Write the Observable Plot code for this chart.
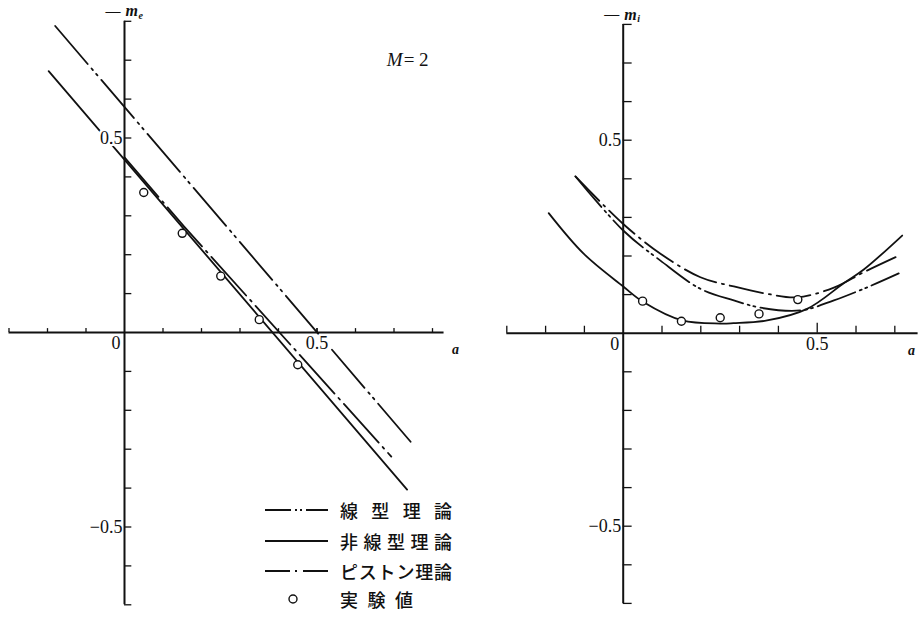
<!DOCTYPE html>
<html>
<head>
<meta charset="utf-8">
<script src="https://cdn.jsdelivr.net/npm/d3@7"></script>
<script src="https://cdn.jsdelivr.net/npm/@observablehq/plot@0.6"></script>
<style>
  html, body { margin: 0; padding: 0; background: #fff; }
  #fig { position: relative; width: 919px; height: 618px; overflow: hidden; background: #fff; }
  #fig > svg { position: absolute; top: 0; overflow: visible; }
  .legend-row { position: absolute; display: flex; align-items: center; height: 24px; }
  .legend-text { display: flex; justify-content: space-between; font-family: "Noto Sans CJK JP", sans-serif; font-size: 18px; font-weight: 500; color: #111; line-height: 24px; }
</style>
</head>
<body>
<div id="fig"></div>
<script>
// ---- data: moment coefficients versus pivot position a, M = 2 ----

// experimental values (same pivot positions in both panels)
const expA = [0.05, 0.15, 0.25, 0.35, 0.45];
const expMe = [0.36, 0.255, 0.145, 0.033, -0.083];
const expMi = [0.083, 0.031, 0.040, 0.050, 0.087];

// left panel, -m_e
const linearLeftA = [-0.180, 0.745];
const linearLeftM = [0.788, -0.283];
const nonlinearLeftA = [-0.197, 0.734];
const nonlinearLeftM = [0.672, -0.404];
const pistonLeftA = [0.0, 0.155, 0.693];
const pistonLeftM = [0.450, 0.272, -0.319];

// right panel, -m_i
const pistonRightA = [-0.123, 0, 0.096, 0.199, 0.285, 0.371, 0.448, 0.543, 0.620, 0.702];
const pistonRightM = [0.406, 0.283, 0.206, 0.145, 0.121, 0.102, 0.093, 0.118, 0.158, 0.197];
const linearRightA = [-0.123, 0, 0.096, 0.199, 0.285, 0.354, 0.457, 0.543, 0.629, 0.710];
const linearRightM = [0.406, 0.266, 0.188, 0.115, 0.085, 0.066, 0.059, 0.085, 0.119, 0.155];
const nonlinearRightA = [-0.192, -0.102, 0, 0.053, 0.152, 0.25, 0.284, 0.371, 0.474, 0.569, 0.620, 0.719];
const nonlinearRightM = [0.311, 0.206, 0.121, 0.080, 0.033, 0.025, 0.026, 0.033, 0.063, 0.130, 0.165, 0.253];

// axes
const yTicks = [-0.7, -0.6, -0.5, -0.4, -0.3, -0.2, -0.1, 0.1, 0.2, 0.3, 0.4, 0.5, 0.6, 0.7, 0.8];
const xTicksLeft = [-0.3, -0.2, -0.1, 0.1, 0.2, 0.3, 0.4, 0.5, 0.6, 0.7, 0.8];
const xTicksRight = [-0.3, -0.2, -0.1, 0.1, 0.2, 0.3, 0.4, 0.6, 0.7];
const xMajor = [0.5];
const xTickValues = [0.5];
const xTickLabels = ["0.5"];
const yTickValues = [0.5, -0.5];
const yTickLabels = ["0.5", "\u22120.5"];
const originLabel = ["0"];
const axisVar = ["a"];
const legendLabels = ["線型理論", "非線型理論", "ピストン理論", "実験値"];
const machLabel = ["M", "= 2"];

// ---- helpers ----
const rows = (a, m) => a.map((v, i) => ({a: v, m: m[i]}));
const ink = "#111";
const serif = "'Liberation Serif', 'DejaVu Serif', serif";
const dashLinear = "50,6,2,5,2,6";
const dashPiston = "52,6,2,6";
const halo = {fill: ink, stroke: "white", strokeWidth: 5, paintOrder: "stroke", fontSize: 18};

function axisMarks({xEnd, xTicks, xTickLen, xMajorLen, yTickLen, sub, varAnchor, varDx}) {
  return [
    Plot.text(xTickValues, {x: d => d, y: 0, text: (d, i) => xTickLabels[i], textAnchor: "middle", lineAnchor: "top", dy: 4, ...halo}),
    Plot.text(yTickValues, {x: 0, y: d => d, text: (d, i) => yTickLabels[i], textAnchor: "end", dx: -2, ...halo}),
    Plot.text(originLabel, {x: 0, y: 0, text: d => d, textAnchor: "end", lineAnchor: "top", dx: -4, dy: 4, ...halo}),
    Plot.ruleY([0], {x1: xEnd[0], x2: xEnd[1], stroke: ink, strokeWidth: 2}),
    Plot.ruleX([0], {y1: -0.7, y2: 0.8, stroke: ink, strokeWidth: 2}),
    Plot.ruleX(xTicks, {x: d => d, y1: 0, y2: xTickLen, stroke: ink, strokeWidth: 1.3}),
    Plot.ruleX(xMajor, {x: d => d, y1: 0, y2: xMajorLen, stroke: ink, strokeWidth: 1.3}),
    Plot.ruleY(yTicks, {y: d => d, x1: 0, x2: yTickLen, stroke: ink, strokeWidth: 1.3}),
    Plot.text(["\u2014"], {x: 0, y: 0.8, text: d => d, textAnchor: "end", dx: -4, dy: -10, fontSize: 15, fontWeight: "bold", fill: ink}),
    Plot.text(["m"], {x: 0, y: 0.8, text: d => d, textAnchor: "start", dx: 1, dy: -10, fontSize: 16, fontStyle: "italic", fontWeight: "bold", fill: ink}),
    Plot.text([sub], {x: 0, y: 0.8, text: d => d, textAnchor: "start", dx: 14, dy: -6, fontSize: 10, fontStyle: "italic", fontWeight: "bold", fill: ink}),
    Plot.text(axisVar, {x: xEnd[1], y: 0, text: d => d, textAnchor: varAnchor, dx: varDx, dy: 17, fontSize: 14, fontStyle: "italic", fontWeight: "bold", fill: ink})
  ];
}

const fig = document.getElementById("fig");

// left panel
const left = Plot.plot({
  width: 460, height: 618,
  marginLeft: 8.5, marginRight: 8.75, marginTop: 20.8, marginBottom: 13.7,
  x: {domain: [-0.3, 0.85], axis: null},
  y: {domain: [-0.7, 0.8], axis: null},
  style: {fontFamily: serif, background: "none", overflow: "visible"},
  marks: [
    Plot.line(rows(linearLeftA, linearLeftM), {x: "a", y: "m", stroke: ink, strokeWidth: 1.8, strokeDasharray: dashLinear}),
    Plot.line(rows(nonlinearLeftA, nonlinearLeftM), {x: "a", y: "m", stroke: ink, strokeWidth: 1.8}),
    Plot.line(rows(pistonLeftA, pistonLeftM), {x: "a", y: "m", stroke: ink, strokeWidth: 1.8, strokeDasharray: dashPiston}),
    ...axisMarks({xEnd: [-0.3, 0.83], xTicks: xTicksLeft, xTickLen: 0.01, xMajorLen: 0.01, yTickLen: 0.019, sub: "e", varAnchor: "start", varDx: 8}),
    Plot.dot(rows(expA, expMe), {x: "a", y: "m", r: 4, stroke: ink, strokeWidth: 1.4, fill: "white"}),
    Plot.text([machLabel[0]], {x: 0.725, y: 0.70, text: d => d, textAnchor: "end", dx: -1, fontSize: 19, fontStyle: "italic", fill: ink}),
    Plot.text([machLabel[1]], {x: 0.725, y: 0.70, text: d => d, textAnchor: "start", fontSize: 19, fill: ink})
  ]
});
left.style.left = "0px";
fig.appendChild(left);

// right panel
const right = Plot.plot({
  width: 459, height: 618,
  marginLeft: 46.3, marginRight: 1.4, marginTop: 23.9, marginBottom: 15.1,
  x: {domain: [-0.3, 0.76], axis: null},
  y: {domain: [-0.7, 0.8], axis: null},
  style: {fontFamily: serif, background: "none", overflow: "visible"},
  marks: [
    Plot.line(rows(pistonRightA, pistonRightM), {x: "a", y: "m", curve: "catmull-rom", stroke: ink, strokeWidth: 1.8, strokeDasharray: "34,6,2,6"}),
    Plot.line(rows(linearRightA, linearRightM), {x: "a", y: "m", curve: "catmull-rom", stroke: ink, strokeWidth: 1.8, strokeDasharray: "40,5,2,4,2,5"}),
    Plot.line(rows(nonlinearRightA, nonlinearRightM), {x: "a", y: "m", curve: "catmull-rom", stroke: ink, strokeWidth: 1.8}),
    ...axisMarks({xEnd: [-0.3, 0.76], xTicks: xTicksRight, xTickLen: 0.018, xMajorLen: 0.026, yTickLen: 0.023, sub: "i", varAnchor: "end", varDx: -3}),
    Plot.dot(rows(expA, expMi), {x: "a", y: "m", r: 4, stroke: ink, strokeWidth: 1.4, fill: "white"})
  ]
});
right.style.left = "460px";
fig.appendChild(right);

// legend, drawn inside the left panel's lower right
const legendStyles = [
  {top: 498, dash: "26,4,2,3,2,4", textWidth: 112},
  {top: 529, dash: null, textWidth: 112},
  {top: 559, dash: "25,5,2,6", textWidth: 112},
  {top: 587, dash: "circle", textWidth: 73}
];
legendLabels.forEach((label, i) => {
  const s = legendStyles[i];
  const row = document.createElement("div");
  row.className = "legend-row";
  row.style.left = "265px";
  row.style.top = s.top + "px";
  const ns = "http://www.w3.org/2000/svg";
  const key = document.createElementNS(ns, "svg");
  key.setAttribute("width", 63); key.setAttribute("height", 24);
  key.style.marginRight = "12px";
  if (s.dash === "circle") {
    const c = document.createElementNS(ns, "circle");
    c.setAttribute("cx", 28); c.setAttribute("cy", 12); c.setAttribute("r", 4);
    c.setAttribute("fill", "white"); c.setAttribute("stroke", ink); c.setAttribute("stroke-width", 1.4);
    key.appendChild(c);
  } else {
    const l = document.createElementNS(ns, "line");
    l.setAttribute("x1", 0); l.setAttribute("x2", 63); l.setAttribute("y1", 12); l.setAttribute("y2", 12);
    l.setAttribute("stroke", ink); l.setAttribute("stroke-width", 1.8);
    if (s.dash) l.setAttribute("stroke-dasharray", s.dash);
    key.appendChild(l);
  }
  row.appendChild(key);
  const text = document.createElement("div");
  text.className = "legend-text";
  text.style.width = s.textWidth + "px";
  Array.from(label).forEach(ch => {
    const span = document.createElement("span");
    span.textContent = ch;
    text.appendChild(span);
  });
  row.appendChild(text);
  fig.appendChild(row);
});
</script>
</body>
</html>
